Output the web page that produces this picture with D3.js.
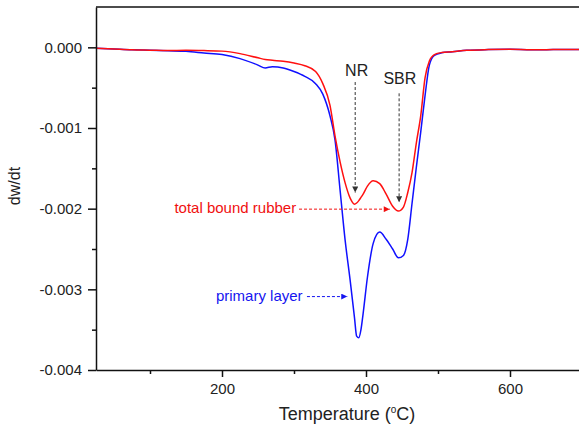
<!DOCTYPE html>
<html>
<head>
<meta charset="utf-8">
<script src="https://cdn.jsdelivr.net/npm/d3@7"></script>
<style>
  body { margin: 0; background: #fff; }
  text { font-family: Arial, "Liberation Sans", sans-serif; }
</style>
</head>
<body>
<div id="wrapper"></div>
<script>
// temperature grid (C) shared by both curves
const temperature = [25, 50, 75, 100, 125, 150, 175, 200, 225, 250, 260, 270, 285, 300, 315, 330, 340, 350, 357, 364, 371, 378, 384, 387, 390, 393, 396, 402, 410, 419, 428, 437, 445, 452, 458, 464, 470, 476, 482, 488, 495, 505, 520, 540, 570, 600, 630, 660, 700];

// dw/dt in units of 1e-3
const totalBoundRubber = [-0.01, -0.02, -0.03, -0.035, -0.04, -0.037, -0.04, -0.047, -0.078, -0.13, -0.15, -0.16, -0.173, -0.195, -0.228, -0.30, -0.45, -0.72, -1.1, -1.42, -1.68, -1.87, -1.945, -1.93, -1.9, -1.86, -1.82, -1.72, -1.655, -1.69, -1.82, -1.97, -2.03, -1.98, -1.8, -1.55, -1.18, -0.85, -0.38, -0.17, -0.09, -0.065, -0.055, -0.037, -0.028, -0.025, -0.03, -0.028, -0.025];
const primaryLayer = [-0.01, -0.02, -0.03, -0.035, -0.042, -0.05, -0.07, -0.09, -0.14, -0.22, -0.256, -0.24, -0.255, -0.3, -0.36, -0.45, -0.58, -0.85, -1.15, -1.77, -2.39, -2.89, -3.35, -3.58, -3.6, -3.5, -3.3, -2.85, -2.43, -2.29, -2.38, -2.5, -2.61, -2.58, -2.38, -1.93, -1.48, -1.05, -0.6, -0.22, -0.1, -0.068, -0.055, -0.037, -0.028, -0.025, -0.03, -0.028, -0.025];

const yMajorTicks = [0, -0.001, -0.002, -0.003, -0.004];
const yMinorTicks = [-0.0005, -0.0015, -0.0025, -0.0035];
const xMajorTicks = [200, 400, 600];
const xMinorTicks = [100, 300, 500, 700];

// arrows: [x1, y1, x2, y2] in data units
const arrows = [
    { from: [385, -0.00043], to: [385, -0.0018], color: "#333" },
    { from: [446, -0.00057], to: [446, -0.00192], color: "#333" },
    { from: [307, -0.002006], to: [433, -0.002006], color: "#f01010" },
    { from: [318, -0.00309], to: [374, -0.00309], color: "#1515f0" },
];
const labels = [
    { text: "NR", x: 387, y: -0.00035, anchor: "middle", color: "#222", size: 16 },
    { text: "SBR", x: 447, y: -0.00045, anchor: "middle", color: "#222", size: 16 },
    { text: "total bound rubber", x: 303, y: -0.002056, anchor: "end", color: "#f01010", size: 15 },
    { text: "primary layer", x: 312, y: -0.003146, anchor: "end", color: "#1515f0", size: 15 },
];

function drawChart() {
    const dataset = temperature.map((t, i) => ({
        t,
        red: totalBoundRubber[i] / 1000,
        blue: primaryLayer[i] / 1000,
    }));

    let dimensions = {
        width: 579,
        height: 429,
        margin: { top: 7, right: -3, bottom: 59, left: 96 },
    };
    dimensions = {
        ...dimensions,
        boundedWidth: dimensions.width - dimensions.margin.left - dimensions.margin.right,
        boundedHeight: dimensions.height - dimensions.margin.top - dimensions.margin.bottom,
    };

    const wrapper = d3.select("#wrapper")
        .append("svg")
            .attr("width", dimensions.width)
            .attr("height", dimensions.height);

    const defs = wrapper.append("defs");
    arrows.forEach((a, i) => {
        defs.append("marker")
            .attr("id", `head${i}`)
            .attr("viewBox", "0 0 10 10")
            .attr("refX", 10)
            .attr("refY", 5)
            .attr("markerWidth", 9)
            .attr("markerHeight", 6)
            .attr("markerUnits", "userSpaceOnUse")
            .attr("orient", "auto")
          .append("path")
            .attr("d", "M0,0 L10,5 L0,10 Z")
            .attr("fill", a.color);
    });

    const bounds = wrapper.append("g")
        .attr("transform", `translate(${dimensions.margin.left},${dimensions.margin.top})`);

    const xScale = d3.scaleLinear()
        .domain([25, 700])
        .range([0, dimensions.boundedWidth]);

    const yScale = d3.scaleLinear()
        .domain([-0.004, 0.0005])
        .range([dimensions.boundedHeight, 0]);

    // top frame line
    bounds.append("line")
        .attr("x1", 0).attr("x2", dimensions.boundedWidth)
        .attr("y1", 0).attr("y2", 0)
        .attr("stroke", "#111").attr("stroke-width", 1.5);
    bounds.append("line")
        .attr("x1", dimensions.boundedWidth).attr("x2", dimensions.boundedWidth)
        .attr("y1", 0).attr("y2", dimensions.boundedHeight)
        .attr("stroke", "#111").attr("stroke-width", 1.5);

    const lineGenerator = key => d3.line()
        .x(d => xScale(d.t))
        .y(d => yScale(d[key]))
        .curve(d3.curveMonotoneX);

    bounds.append("path")
        .attr("d", lineGenerator("blue")(dataset))
        .attr("fill", "none")
        .attr("stroke", "#1010ff")
        .attr("stroke-width", 1.5);

    bounds.append("path")
        .attr("d", lineGenerator("red")(dataset))
        .attr("fill", "none")
        .attr("stroke", "#ff1010")
        .attr("stroke-width", 1.5);

    // axes
    const styleAxis = g => {
        g.selectAll(".domain").attr("stroke", "#111").attr("stroke-width", 1.5);
        g.selectAll(".tick line").attr("stroke", "#111").attr("stroke-width", 1.5);
        g.selectAll(".tick text")
            .attr("fill", "#222")
            .style("font-size", "15px")
            .style("font-family", "Arial, 'Liberation Sans', sans-serif");
    };

    const xAxis = bounds.append("g")
        .attr("transform", `translate(0,${dimensions.boundedHeight})`)
        .call(d3.axisBottom(xScale).tickValues(xMajorTicks).tickSize(7).tickSizeOuter(0).tickPadding(6))
        .call(styleAxis);
    bounds.append("g")
        .attr("transform", `translate(0,${dimensions.boundedHeight})`)
        .call(d3.axisBottom(xScale).tickValues(xMinorTicks).tickSize(4).tickFormat(""))
        .call(styleAxis)
        .select(".domain").remove();

    const yAxis = bounds.append("g")
        .call(d3.axisLeft(yScale).tickValues(yMajorTicks).tickSize(8).tickSizeOuter(0).tickPadding(6)
            .tickFormat(d => d.toFixed(3)))
        .call(styleAxis);
    bounds.append("g")
        .call(d3.axisLeft(yScale).tickValues(yMinorTicks).tickSize(4).tickFormat(""))
        .call(styleAxis)
        .select(".domain").remove();

    // axis titles
    const xLabel = wrapper.append("text")
        .attr("x", 347)
        .attr("y", 420)
        .attr("text-anchor", "middle")
        .attr("fill", "#222")
        .style("font-size", "18px");
    xLabel.append("tspan").text("Temperature (");
    xLabel.append("tspan").text("o").style("font-size", "10px").attr("dy", -7);
    xLabel.append("tspan").text("C)").attr("dy", 7);

    wrapper.append("text")
        .attr("transform", "translate(20,186) rotate(-90)")
        .attr("text-anchor", "middle")
        .attr("fill", "#222")
        .style("font-size", "16px")
        .text("dw/dt");

    // annotations
    arrows.forEach((a, i) => {
        bounds.append("line")
            .attr("x1", xScale(a.from[0]))
            .attr("y1", yScale(a.from[1]))
            .attr("x2", xScale(a.to[0]))
            .attr("y2", yScale(a.to[1]))
            .attr("stroke", a.color)
            .attr("stroke-width", 1)
            .attr("stroke-dasharray", "3,2")
            .attr("marker-end", `url(#head${i})`);
    });

    bounds.selectAll(".label")
        .data(labels)
        .join("text")
            .attr("class", "label")
            .attr("x", d => xScale(d.x))
            .attr("y", d => yScale(d.y))
            .attr("text-anchor", d => d.anchor)
            .attr("fill", d => d.color)
            .style("font-size", d => `${d.size}px`)
            .text(d => d.text);
}

drawChart();
</script>
</body>
</html>
